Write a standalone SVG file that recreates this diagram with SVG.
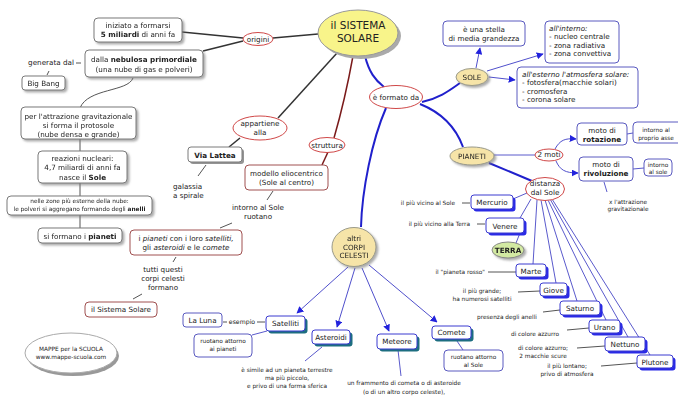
<svg xmlns="http://www.w3.org/2000/svg" width="678" height="399" viewBox="0 0 678 399">
<defs>
<style>
text{font-family:"DejaVu Sans",Verdana,sans-serif;font-size:7.2px;fill:#222;text-anchor:middle}
.s{font-size:5.8px}
.b{font-weight:bold}
.i{font-style:italic}
.l{text-anchor:start}
.e{text-anchor:end}
.box{fill:#fff;stroke:#7a7a7a;stroke-width:1}
.br{fill:#fff;stroke:#a05050;stroke-width:1}
.sb{fill:#fff;stroke:#5a5ac0;stroke-width:1}
.pb{fill:#fff;stroke:#3a3ad0;stroke-width:1}
.psh{fill:#2a2ae6}
.tsh{fill:#1d6e80}
.lk{fill:#fff;stroke:#d04848;stroke-width:1}
.tan{fill:#f6e4a8;stroke:#9a9a8a;stroke-width:1}
.cd{fill:none;stroke:#333;stroke-width:1.5}
.cg{fill:none;stroke:#555;stroke-width:1}
.cr{fill:none;stroke:#7a1a1a;stroke-width:1.5}
.cb{fill:none;stroke:#2020cc;stroke-width:2}
.ct{fill:none;stroke:#5a5acc;stroke-width:1}
.ca{fill:none;stroke:#5050cc;stroke-width:1;marker-end:url(#ah)}
</style>
<filter id="sh" x="-20%" y="-20%" width="150%" height="160%">
<feDropShadow dx="2" dy="2" stdDeviation="1" flood-color="#777" flood-opacity="0.6"/>
</filter>
<marker id="ah" viewBox="0 0 10 10" refX="9" refY="5" markerWidth="7" markerHeight="7" orient="auto">
<path d="M0,0 L10,5 L0,10 z" fill="#2222dd"/>
</marker>
</defs>
<rect width="678" height="399" fill="#fff"/>

<g id="connectors">
<path class="cd" d="M182,32 L243,38"/>
<path class="cd" d="M203,51 L243,41"/>
<path class="cd" d="M273,38 L318,34"/>
<path class="cg" d="M76,63 L81,63"/>
<path class="cg" d="M49,71 L47,75"/>
<path class="cg" d="M133,78 C128,92 88,88 80,108"/>
<path class="cg" d="M80,139 L80,151"/>
<path class="cg" d="M80,183 L80,196"/>
<path class="cg" d="M80,215 L80,228"/>
<path class="cd" d="M337,53 L278,118"/>
<path class="cd" d="M240,138 L229,147"/>
<path class="cg" d="M206,165 L198,176"/>
<path class="cr" d="M353,56 Q345,100 334,138"/>
<path class="cr" d="M328,152 L322,165"/>
<path class="cg" d="M273,191 L267,200" stroke="#a05050"/>
<path class="cg" d="M232,223 L220,228" stroke="#a05050"/>
<path class="cg" d="M176,257 L173,262" stroke="#a05050"/>
<path class="cg" d="M142,294 L133,299" stroke="#a05050"/>
<path class="cb" d="M365,56 C369,72 375,80 384,87"/>
<path class="cb" d="M422,102 C440,98 450,90 460,83"/>
<path class="ca" d="M476,68 L480,48"/>
<path class="ca" d="M487,71 L543,54"/>
<path class="ca" d="M489,77 L515,80"/>
<path class="cb" d="M420,104 C440,112 455,125 463,147"/>
<path class="ct" d="M494,155 L535,155"/>
<path class="ca" d="M555,149 C560,140 565,138 576,139"/>
<path class="ca" d="M556,161 C560,170 565,173 578,173"/>
<path class="ct" d="M627,134 L633,133"/>
<path class="ct" d="M633,169 L644,168"/>
<path class="ct" d="M604,182 L607,192"/>
<path class="cb" d="M489,163 L532,181"/>
<path class="ct" d="M527,193 L513,199"/>
<path class="ct" d="M531,199 L520,218"/>
<path class="ct" d="M520,233 L516,243"/>
<path class="ct" d="M537,200 L533,264"/>
<path class="ct" d="M541,200 L556,283"/>
<path class="ct" d="M545,200 L577,301"/>
<path class="ct" d="M548,200 L606,320"/>
<path class="ct" d="M550,199 L628,337"/>
<path class="ct" d="M552,199 L650,355"/>
<path class="cg" d="M462,203 L470,203"/>
<path class="cg" d="M477,224 L485,224"/>
<path class="cg" d="M488,272 L516,272"/>
<path class="cg" d="M518,292 L540,291"/>
<path class="cg" d="M543,312 L560,310"/>
<path class="cg" d="M567,330 L589,328"/>
<path class="cg" d="M577,348 L605,346"/>
<path class="cg" d="M601,366 L637,363"/>
<path class="cb" d="M386,108 C372,140 362,190 361,227"/>
<path class="ca" d="M348,267 L297,313"/>
<path class="ca" d="M355,268 L337,327"/>
<path class="ca" d="M362,268 L389,331"/>
<path class="ca" d="M369,265 L437,322"/>
<path class="cg" d="M223,322 L227,322"/>
<path class="cg" d="M257,322 L265,322"/>
<path class="ct" d="M267,331 L252,335"/>
<path class="ct" d="M322,347 L305,361"/>
<path class="ct" d="M398,350 L401,376"/>
<path class="ct" d="M457,341 L463,350"/>
</g>

<g id="main">
<ellipse cx="361" cy="36" rx="40" ry="23" fill="#aaa"/>
<ellipse cx="358" cy="33" rx="40" ry="23" fill="#f8f48a" stroke="#999"/>
<text x="358" y="28.5" style="font-size:10.5px">il SISTEMA</text>
<text x="358" y="41.5" style="font-size:10.5px">SOLARE</text>
</g>
<g id="origini"><ellipse class="lk" cx="258" cy="39" rx="15" ry="6.5"/><text x="258" y="41.5">origini</text></g>
<g id="iniziato" filter="url(#sh)"><rect class="box" x="94" y="18" width="88" height="24" rx="4"/><text x="138" y="28">iniziato a formarsi</text><text x="138" y="37"><tspan class="b">5 miliardi</tspan> di anni fa</text></g>
<g id="nebulosa" filter="url(#sh)"><rect class="box" x="85" y="50" width="118" height="27" rx="4"/><text x="144" y="62">dalla <tspan class="b">nebulosa primordiale</tspan></text><text x="144" y="71.5">(una nube di gas e polveri)</text></g>
<g id="generata"><text x="51" y="65">generata dal</text></g>
<g id="bigbang" filter="url(#sh)"><rect class="box" x="22" y="76" width="43" height="14" rx="3"/><text x="43.5" y="86">Big Bang</text></g>
<g id="protosole" filter="url(#sh)"><rect class="box" x="21" y="107" width="115" height="32" rx="4"/><text x="78.5" y="118.5">per l'attrazione gravitazionale</text><text x="78.5" y="127.5">si forma il protosole</text><text x="78.5" y="136.5">(nube densa e grande)</text></g>
<g id="reazioni" filter="url(#sh)"><rect class="box" x="38" y="151" width="89" height="32" rx="4"/><text x="82.5" y="160.6">reazioni nucleari:</text><text x="82.5" y="170">4,7 miliardi di anni fa</text><text x="82.5" y="179.5">nasce il <tspan class="b">Sole</tspan></text></g>
<g id="anelli" filter="url(#sh)"><rect class="box" x="7" y="196" width="145" height="19" rx="4"/><text class="s" x="79.5" y="203.3">nelle zone più esterne della nube:</text><text class="s" x="79.5" y="211.3">le polveri si aggregano formando degli <tspan class="b">anelli</tspan></text></g>
<g id="pianeti-form" filter="url(#sh)"><rect class="box" x="38" y="228" width="84" height="15" rx="4"/><text x="80" y="238.5">si formano i <tspan class="b">pianeti</tspan></text></g>

<g id="appartiene"><ellipse class="lk" cx="260" cy="128" rx="27" ry="12"/><text x="260" y="125.5">appartiene</text><text x="260" y="134.5">alla</text></g>
<g id="vialattea"><rect x="190" y="149" width="54" height="15" rx="3" fill="#666" opacity="0.7"/><rect class="box" x="188" y="147" width="54" height="15" rx="3" stroke="#555"/><text class="b" x="215" y="157.5">Via Lattea</text></g>
<g id="galassia"><text class="l" x="173" y="189">galassia</text><text class="l" x="173" y="198">a spirale</text></g>
<g id="struttura"><ellipse class="lk" cx="327" cy="145" rx="18" ry="7.5"/><text x="327" y="147.5">struttura</text></g>
<g id="modello"><rect class="br" x="245" y="165" width="83" height="25" rx="4"/><text x="286.5" y="175.5">modello eliocentrico</text><text x="286.5" y="184.5">(Sole al centro)</text></g>
<g id="intorno"><text x="258" y="209.5">intorno al Sole</text><text x="258" y="219">ruotano</text></g>
<g id="ipianeti"><rect class="br" x="130" y="230" width="112" height="25" rx="4"/><text x="186" y="240.5">i <tspan class="i">pianeti</tspan>  con i loro <tspan class="i">satelliti,</tspan></text><text x="186" y="249.5">gli <tspan class="i">asteroidi</tspan>  e le <tspan class="i">comete</tspan></text></g>
<g id="tutti"><text x="163" y="271.5">tutti questi</text><text x="163" y="280.5">corpi celesti</text><text x="163" y="289.5">formano</text></g>
<g id="ilsistema"><rect class="br" x="85" y="302" width="72" height="15" rx="4"/><text x="121" y="312.3">il Sistema Solare</text></g>
<g id="mappe"><ellipse cx="73" cy="356" rx="46" ry="20" fill="#999"/><ellipse cx="71" cy="353" rx="46" ry="20" fill="#fff" stroke="#aaa"/><text class="s" x="71" y="351">MAPPE per la SCUOLA</text><text class="s" x="71" y="359">www.mappe-scuola.com</text></g>

<g id="formato"><ellipse class="lk" cx="396" cy="97" rx="26.5" ry="11.5"/><text x="396" y="99.5">è formato da</text></g>
<g id="sole" filter="url(#sh)"><ellipse class="tan" cx="472" cy="77" rx="16" ry="8.5"/><text x="472" y="79.5">SOLE</text></g>
<g id="stella"><rect class="sb" x="443" y="21" width="82" height="25" rx="4"/><text x="484" y="31.5">è una stella</text><text x="484" y="40.5">di media grandezza</text></g>
<g id="interno"><rect class="sb" x="545" y="21" width="74" height="42" rx="4"/><text class="l i" x="549" y="30.5">all'interno:</text><text class="l" x="549" y="39">- nucleo centrale</text><text class="l" x="549" y="47.5">- zona radiativa</text><text class="l" x="549" y="56">- zona convettiva</text></g>
<g id="esterno"><rect class="sb" x="517" y="67" width="121" height="41" rx="4"/><text class="l i" x="522" y="76.5">all'esterno l'atmosfera solare:</text><text class="l" x="522" y="85">- fotosfera(macchie solari)</text><text class="l" x="522" y="93.5">- cromosfera</text><text class="l" x="522" y="102">- corona solare</text></g>

<g id="pianeti" filter="url(#sh)"><ellipse class="tan" cx="472" cy="156" rx="22" ry="9"/><text x="472" y="158.5">PIANETI</text></g>
<g id="duemoti"><ellipse class="lk" cx="549" cy="155" rx="14" ry="6"/><text x="549" y="157.3">2 moti</text></g>
<g id="rotazione"><rect class="sb" x="577" y="123" width="50" height="22" rx="4"/><text x="602" y="132.5">moto di</text><text class="b" x="602" y="141.5">rotazione</text></g>
<g id="asse"><rect class="sb" x="633" y="122" width="50" height="21" rx="4"/><text class="s" x="656" y="132">intorno al</text><text class="s" x="656" y="139.5">proprio asse</text></g>
<g id="rivoluzione"><rect class="sb" x="579" y="157" width="54" height="24" rx="4"/><text x="606" y="166.5">moto di</text><text class="b" x="606" y="175.5">rivoluzione</text></g>
<g id="alsole"><rect class="sb" x="644" y="159" width="28" height="17" rx="4"/><text class="s" x="658" y="166.5">intorno</text><text class="s" x="658" y="173.5">al sole</text></g>
<g id="attrazione"><text class="s" x="628" y="204">x l'attrazione</text><text class="s" x="628" y="211">gravitazionale</text></g>
<g id="distanza"><ellipse class="lk" cx="545" cy="189" rx="19.5" ry="11.5"/><text x="545" y="186">distanza</text><text x="545" y="194.5">dal Sole</text></g>

<g id="mercurio"><rect class="psh" x="473.5" y="197.5" width="42" height="14" rx="3"/><rect class="pb" x="471" y="195" width="42" height="14" rx="3"/><text x="492" y="205">Mercurio</text><text class="s e" x="455" y="205">il più vicino al Sole</text></g>
<g id="venere"><rect class="psh" x="488.5" y="220.5" width="38" height="15" rx="3"/><rect class="pb" x="486" y="218" width="38" height="15" rx="3"/><text x="505" y="228.5">Venere</text><text class="s e" x="470" y="226">il più vicino alla Terra</text></g>
<g id="terra" filter="url(#sh)"><ellipse cx="508" cy="250" rx="16" ry="8" fill="#d3eaa2" stroke="#888"/><text class="b" x="508" y="252.5">TERRA</text></g>
<g id="marte"><rect class="psh" x="518.5" y="266.5" width="30" height="13" rx="3"/><rect class="pb" x="516" y="264" width="30" height="13" rx="3"/><text x="531" y="273.5">Marte</text><text class="s e" x="485" y="274">il "pianeta rosso"</text></g>
<g id="giove"><rect class="psh" x="542.5" y="285.5" width="27" height="13" rx="3"/><rect class="pb" x="540" y="283" width="27" height="13" rx="3"/><text x="553.5" y="292.5">Giove</text><text class="s" x="482" y="293">il più grande;</text><text class="s" x="482" y="301">ha numerosi satelliti</text></g>
<g id="saturno"><rect class="psh" x="562.5" y="303.5" width="40" height="14" rx="3"/><rect class="pb" x="560" y="301" width="40" height="14" rx="3"/><text x="580" y="311">Saturno</text><text class="s" x="507" y="319">presenza degli anelli</text></g>
<g id="urano"><rect class="psh" x="591.5" y="322.5" width="31" height="13" rx="3"/><rect class="pb" x="589" y="320" width="31" height="13" rx="3"/><text x="604.5" y="329.5">Urano</text><text class="s" x="535" y="336">di colore azzurro</text></g>
<g id="nettuno"><rect class="psh" x="607.5" y="339.5" width="40" height="14" rx="3"/><rect class="pb" x="605" y="337" width="40" height="14" rx="3"/><text x="625" y="347">Nettuno</text><text class="s" x="543" y="350">di colore azzurro;</text><text class="s" x="543" y="358">2 macchie scure</text></g>
<g id="plutone"><rect class="psh" x="639.5" y="357.5" width="36" height="13" rx="3"/><rect class="pb" x="637" y="355" width="36" height="13" rx="3"/><text x="655" y="364.5">Plutone</text><text class="s" x="567" y="368">il più lontano;</text><text class="s" x="567" y="375.5">privo di atmosfera</text></g>

<g id="altri" filter="url(#sh)"><ellipse class="tan" cx="354" cy="247" rx="22" ry="19.5"/><text x="354" y="240.5">altri</text><text x="354" y="249.5">CORPI</text><text x="354" y="258">CELESTI</text></g>
<g id="satelliti"><rect class="tsh" x="268.5" y="318.5" width="39" height="15" rx="3"/><rect class="pb" x="266" y="316" width="39" height="15" rx="3"/><text x="285.5" y="326">Satelliti</text></g>
<g id="luna"><rect class="sb" x="183" y="313" width="39" height="14" rx="3"/><text x="202.5" y="323">La Luna</text><text x="242" y="324" style="font-size:6.2px">esempio</text></g>
<g id="ruotano-pianeti"><rect class="sb" x="194" y="334" width="58" height="23" rx="4"/><text class="s" x="223" y="343">ruotano attorno</text><text class="s" x="223" y="351">ai pianeti</text></g>
<g id="asteroidi"><rect class="tsh" x="314.5" y="332.5" width="38" height="14" rx="3"/><rect class="pb" x="312" y="330" width="38" height="14" rx="3"/><text x="331" y="339.5">Asteroidi</text><text class="s" x="287" y="372">è simile ad un pianeta terrestre</text><text class="s" x="287" y="380">ma più piccolo,</text><text class="s" x="287" y="388">e privo di una forma sferica</text></g>
<g id="meteore"><rect class="tsh" x="379.5" y="336.5" width="40" height="15" rx="3"/><rect class="pb" x="377" y="334" width="40" height="15" rx="3"/><text x="397" y="344">Meteore</text><text class="s" x="404" y="385">un frammento di cometa o di asteroide</text><text class="s" x="404" y="393.5">(o di un altro corpo celeste),</text></g>
<g id="comete"><rect class="tsh" x="434.5" y="328.5" width="39" height="13" rx="3"/><rect class="pb" x="432" y="326" width="39" height="13" rx="3"/><text x="451.5" y="335">Comete</text></g>
<g id="ruotano-sole"><rect class="sb" x="444" y="350" width="59" height="21" rx="4"/><text class="s" x="473.5" y="359">ruotano attorno</text><text class="s" x="473.5" y="366.5">al Sole</text></g>
</svg>
